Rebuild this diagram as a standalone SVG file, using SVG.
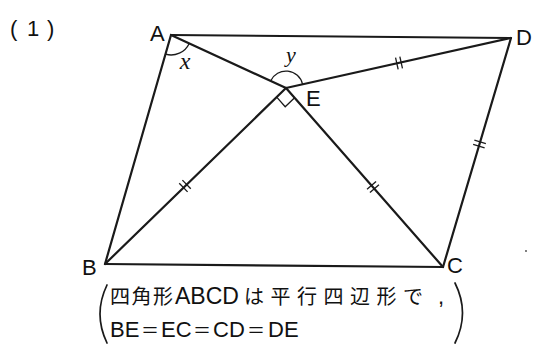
<svg xmlns="http://www.w3.org/2000/svg" width="536" height="346" viewBox="0 0 536 346">
<style>
  .edge{stroke:#1a1a1a;stroke-width:2.2;stroke-linecap:round;fill:none}
  .thin{stroke:#1a1a1a;stroke-width:1.3;fill:none}
  .brk{stroke:#1a1a1a;stroke-width:1.7;fill:none;stroke-linecap:round}
  .tick line{stroke:#1a1a1a;stroke-width:1.3}
  .lbl{font-family:"Liberation Sans","DejaVu Sans",sans-serif;font-size:22px;fill:#111}
  .var{font-family:"Liberation Serif","DejaVu Serif",serif;font-style:italic;fill:#111}
  .cj{font-family:"Noto Sans CJK JP","Noto Sans CJK SC",sans-serif;font-size:20px;fill:#111}
  .eq{font-family:"Noto Sans CJK JP","Noto Sans CJK SC",sans-serif;font-size:18px;fill:#111}
  .lat{font-family:"Liberation Sans","DejaVu Sans",sans-serif;fill:#111}
</style>
<defs>
  <g id="tk" class="tick"><line x1="-2.2" y1="-6" x2="-2.2" y2="6"/><line x1="2.2" y1="-6" x2="2.2" y2="6"/></g>
</defs>
<rect width="536" height="346" fill="#fff"/>
<text class="lbl" y="36"><tspan x="10">(</tspan><tspan x="27">1</tspan><tspan x="47">)</tspan></text>
<g id="connectors">
  <line class="edge" x1="171" y1="35" x2="511" y2="38" style="stroke-width:1.9"/>
  <line class="edge" x1="171" y1="35" x2="105" y2="264"/>
  <line class="edge" x1="105" y1="264" x2="443" y2="267"/>
  <line class="edge" x1="443" y1="267" x2="511" y2="38"/>
  <line class="edge" x1="171" y1="35" x2="286" y2="88"/>
  <line class="edge" x1="105" y1="264" x2="286" y2="88"/>
  <line class="edge" x1="286" y1="88" x2="443" y2="267"/>
  <line class="edge" x1="286" y1="88" x2="511" y2="38"/>
  <path class="thin" d="M165.5,54.2 A20,20 0 0 0 189.2,43.4"/>
  <path class="thin" d="M270.6,80.9 A17,17 0 0 1 302.6,84.3"/>
  <path class="thin" d="M276.7,97.1 L285.2,106.8 L294.6,97.8"/>
  <use href="#tk" transform="translate(185,186) rotate(-44.2)"/>
  <use href="#tk" transform="translate(373,187) rotate(48.7)"/>
  <use href="#tk" transform="translate(399,63) rotate(-12.5)"/>
  <use href="#tk" transform="translate(479.5,144) rotate(106.5)"/>
</g>
<g id="A"><text class="lbl" x="150" y="41">A</text></g>
<g id="B"><text class="lbl" x="82" y="275">B</text></g>
<g id="C"><text class="lbl" x="447" y="273">C</text></g>
<g id="D"><text class="lbl" x="516" y="45">D</text></g>
<g id="E"><text class="lbl" x="306" y="106">E</text></g>
<text class="var" x="185" y="68.5" font-size="24" text-anchor="middle">x</text>
<text class="var" x="291" y="61.5" font-size="22" text-anchor="middle">y</text>
<circle cx="526" cy="251" r="0.9" fill="#444"/>
<g id="note">
  <path class="brk" d="M107,285 Q93,314 107,343"/>
  <path class="brk" d="M455,283 Q470,313 455,343"/>
  <text y="304"><tspan class="cj" x="110" letter-spacing="1.5">四角形</tspan><tspan class="lat" font-size="23" x="175">ABCD</tspan><tspan class="cj" x="244" letter-spacing="6.5">は平行四辺形で</tspan><tspan class="lat" font-size="22" x="438">,</tspan></text>
  <text y="337"><tspan class="lat" font-size="22" x="110">BE</tspan><tspan class="eq" x="141">＝</tspan><tspan class="lat" font-size="22" x="161">EC</tspan><tspan class="eq" x="193">＝</tspan><tspan class="lat" font-size="22" x="213">CD</tspan><tspan class="eq" x="247">＝</tspan><tspan class="lat" font-size="22" x="268">DE</tspan></text>
</g>
</svg>
